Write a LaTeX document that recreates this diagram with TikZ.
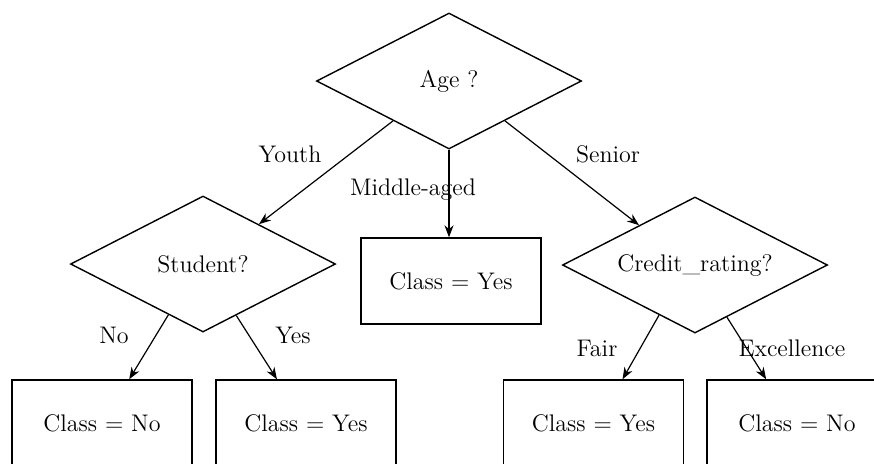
\documentclass[tikz,border=0pt]{standalone}
\usetikzlibrary{shapes.geometric,calc,arrows.meta}
\begin{document}
\begin{tikzpicture}[x=0.5pt,y=-0.5pt,
  every node/.style={font=\fontsize{12}{14}\selectfont},
  decision/.style={draw,line width=0.7pt,diamond,shape aspect=1.95,inner sep=0pt,
    minimum width=132.5pt,minimum height=68pt},
  leaf/.style={draw,line width=0.7pt,rectangle,minimum width=90pt,minimum height=43pt,inner sep=0pt},
  lbl/.style={inner sep=0pt},
  conn/.style={line width=0.6pt,-{Stealth[length=6pt,width=4.5pt]}}]
\useasboundingbox (0,0) rectangle (874,463);
\begin{scope}
\clip (0,0) rectangle (874,463);
\node[decision] (age) at (449,81) {Age ?};
\node[decision] (student) at (203,264) {Student?};
\node[decision] (credit) at (695,265) {Credit\_rating?};
\node[leaf] (mid) at (451,281) {Class $=$ Yes};
\node[leaf] (b1) at (102,423) {Class $=$ No};
\node[leaf] (b2) at (306,423) {Class $=$ Yes};
\node[leaf] (b3) at (593.5,423) {Class $=$ Yes};
\node[leaf] (b4) at (797,423) {Class $=$ No};

\draw[conn] ($(age.west)!0.58!(age.south)$) -- ($(student.north)!0.42!(student.east)$);
\draw[conn] ($(age.south)!0.42!(age.east)$) -- ($(credit.west)!0.58!(credit.north)$);
\draw[conn] (age.south) -- (age.south |- mid.north);

\draw[conn] ($(student.west)!0.74!(student.south)$) -- ($(b1.north west)!0.65!(b1.north east)$);
\draw[conn] ($(student.south)!0.25!(student.east)$) -- ($(b2.north west)!0.34!(b2.north east)$);
\draw[conn] ($(credit.west)!0.73!(credit.south)$) -- ($(b3.north west)!0.66!(b3.north east)$);
\draw[conn] ($(credit.south)!0.24!(credit.east)$) -- ($(b4.north west)!0.33!(b4.north east)$);

\node[lbl] (lyouth) at (290,154) {Youth};
\node[lbl] (lsenior) at (608,154) {Senior};
\node[lbl] (lmid) at (413,190) {Middle-aged};
\node[lbl] (lno) at (114,335) {No};
\node[lbl] (lyes) at (293,335) {Yes};
\node[lbl] (lfair) at (597,348) {Fair};
\node[lbl] (lexc) at (792,348) {Excellence};
\end{scope}
\end{tikzpicture}
\end{document}
